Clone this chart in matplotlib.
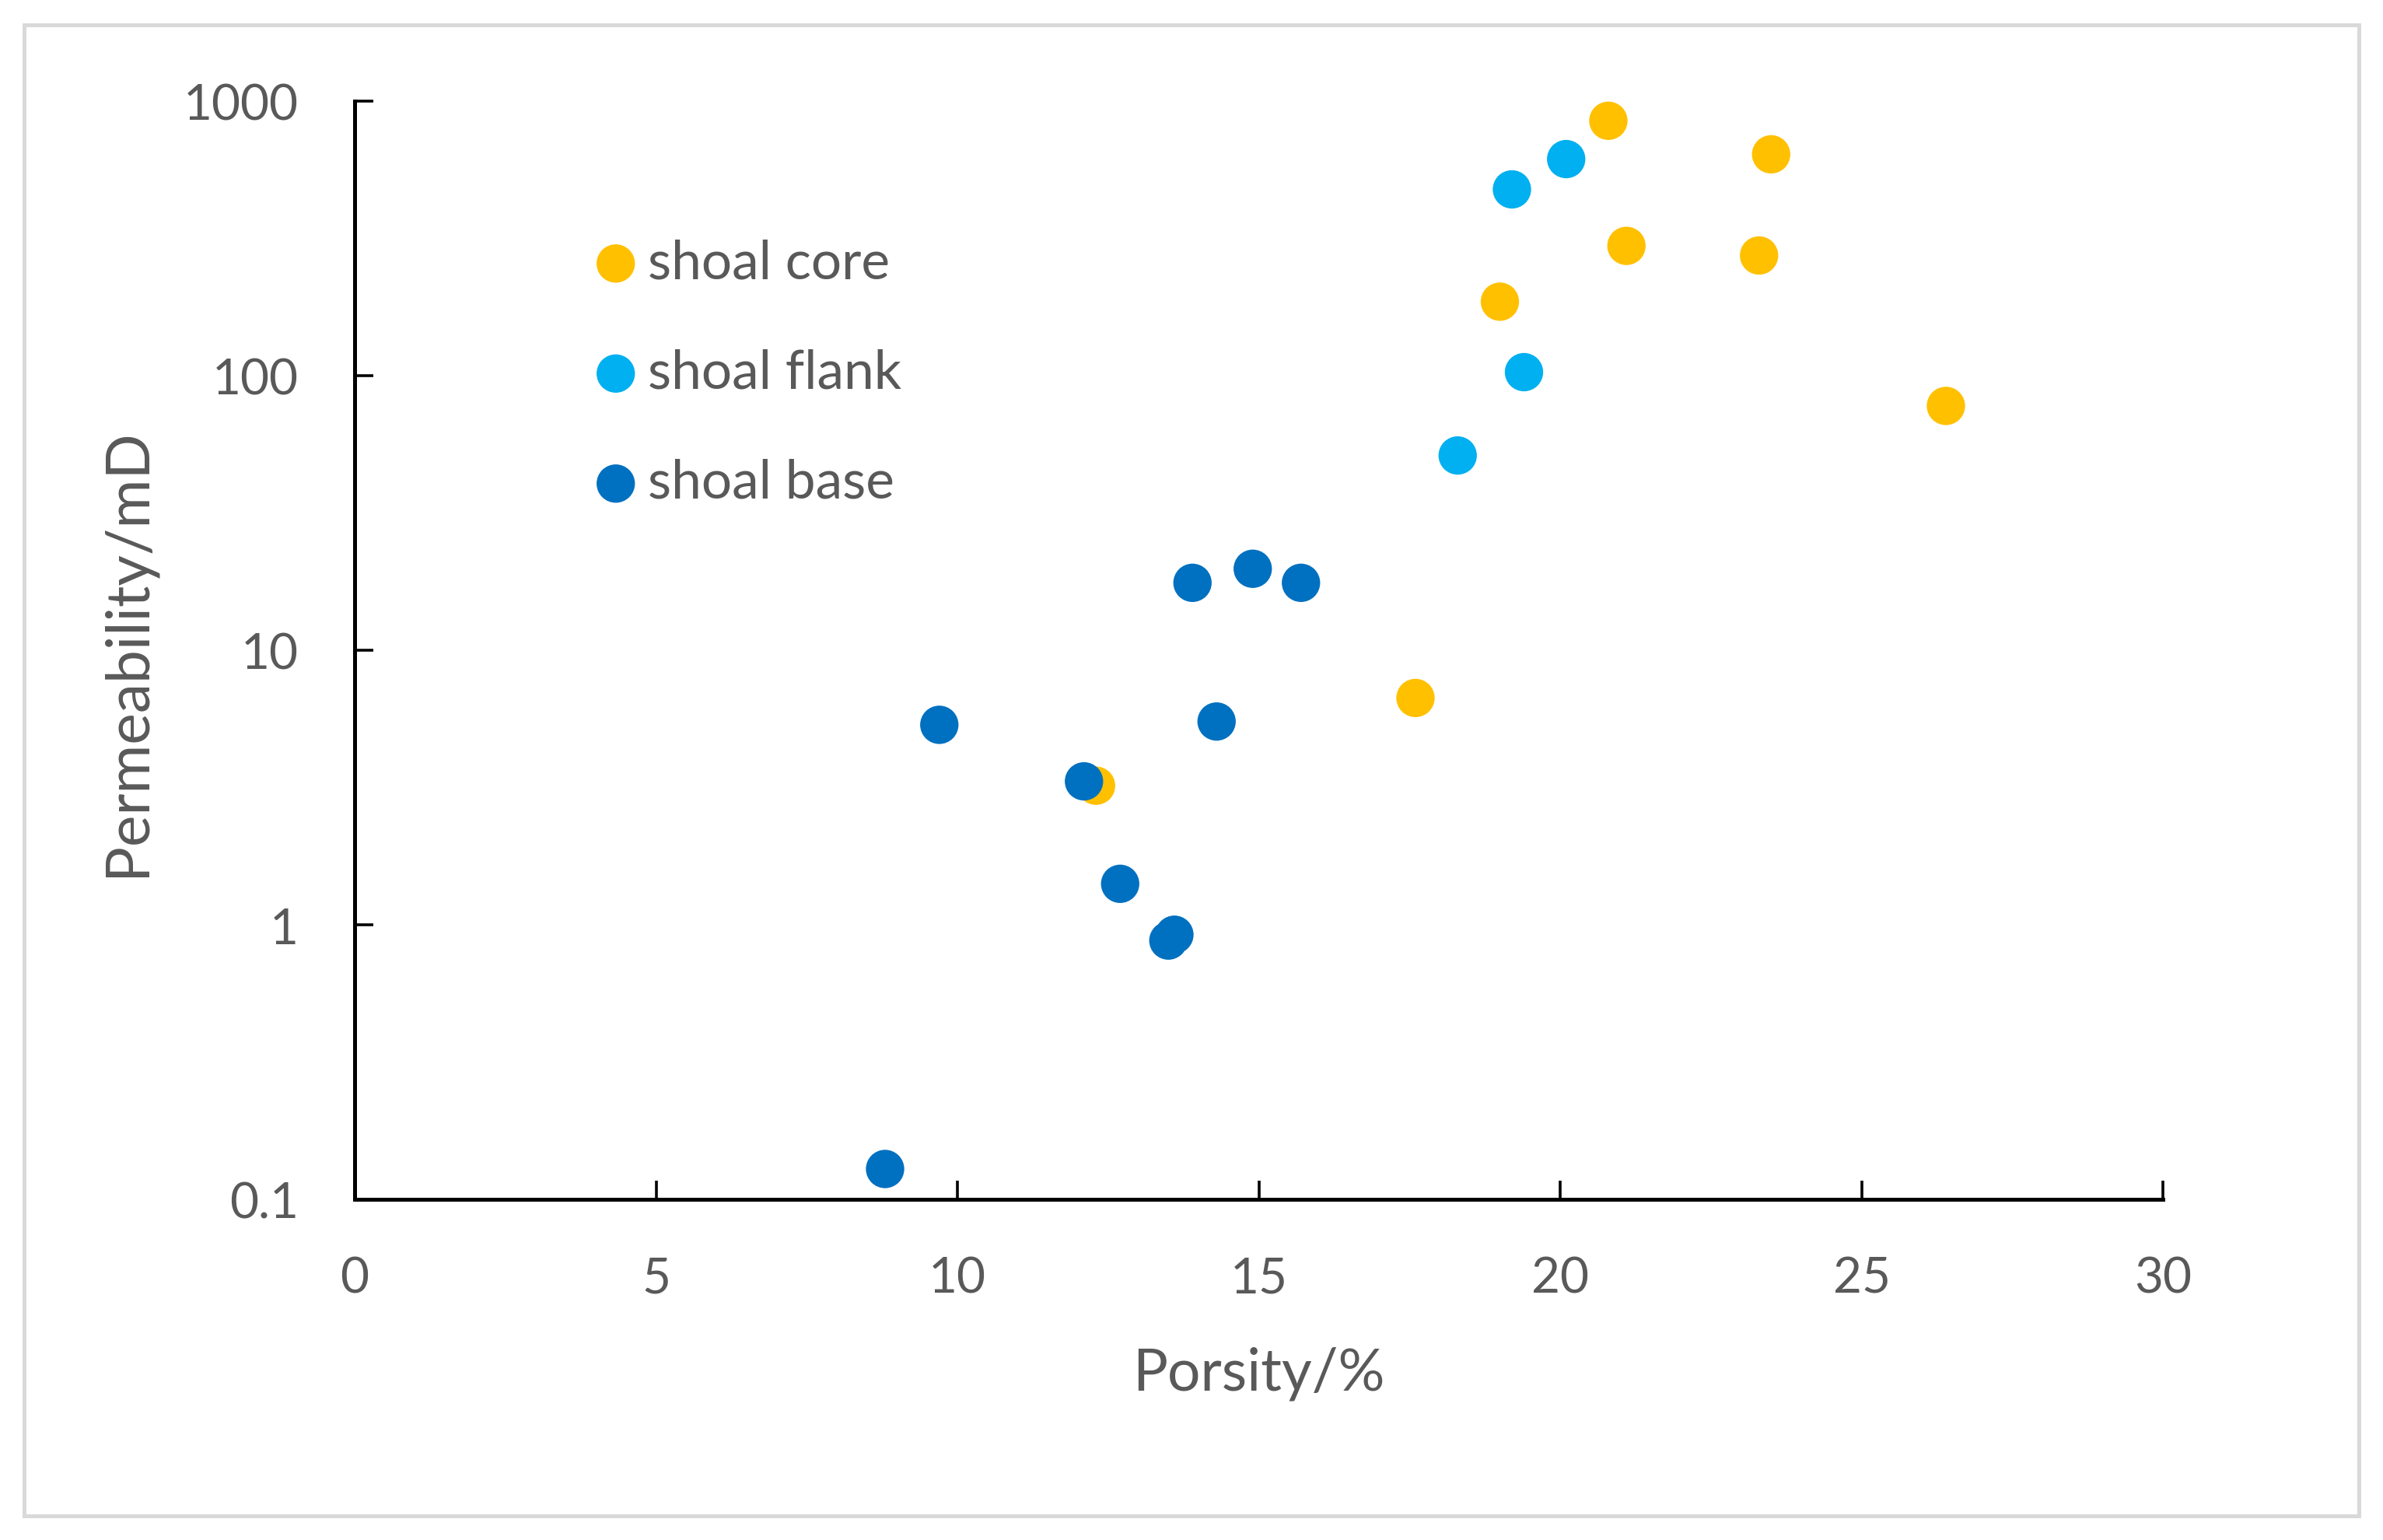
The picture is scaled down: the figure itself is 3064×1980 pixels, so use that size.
import matplotlib
matplotlib.use("Agg")
import matplotlib.pyplot as plt
from matplotlib.patches import Rectangle

plt.rcParams['font.family'] = ['Lato', 'DejaVu Sans']

# Data
core_porosity = [20.8, 23.5, 21.1, 23.3, 19.0, 26.4, 17.6, 12.3]
core_perm = [848, 640, 297, 274, 186, 77.6, 6.7, 3.21]

flank_porosity = [20.1, 19.2, 19.4, 18.3]
flank_perm = [615, 477, 103, 51.2]

base_porosity = [13.9, 14.9, 15.7, 9.7, 14.3, 12.1, 12.7, 13.6, 13.5, 8.8]
base_perm = [17.6, 19.8, 17.6, 5.35, 5.5, 3.33, 1.41, 0.92, 0.876, 0.129]

series_labels = ["shoal core", "shoal flank", "shoal base"]
series_colors = ["#FFC000", "#00B0F0", "#0070C0"]

x_ticks = [0, 5, 10, 15, 20, 25, 30]
y_ticks = [0.1, 1, 10, 100, 1000]
y_ticklabels = ["0.1", "1", "10", "100", "1000"]

W, H = 3064, 1981
DPI = 200
fig = plt.figure(figsize=(W / DPI, H / DPI), dpi=DPI)
fig.patch.set_facecolor("white")

# outer border
fig.patches.append(Rectangle((31 / W, 1 - 1950 / H), (3033 - 31) / W, (1950 - 33) / H,
                             transform=fig.transFigure, fill=False,
                             edgecolor="#D9D9D9", linewidth=1.8, zorder=0))

left, right, top, bottom = 456, 2781, 131, 1543
ax = fig.add_axes([left / W, 1 - bottom / H, (right - left) / W, (bottom - top) / H])

text_color = "#595959"
msize = 315

ax.scatter(core_porosity, core_perm, s=msize, color=series_colors[0], label=series_labels[0],
           edgecolors="none", zorder=3)
ax.scatter(flank_porosity, flank_perm, s=msize, color=series_colors[1], label=series_labels[1],
           edgecolors="none", zorder=3)
ax.scatter(base_porosity, base_perm, s=msize, color=series_colors[2], label=series_labels[2],
           edgecolors="none", zorder=4)

ax.set_yscale("log")
ax.set_xlim(0, 30)
ax.set_ylim(0.1, 1000)
ax.set_xticks(x_ticks)
ax.set_xticklabels([str(t) for t in x_ticks])
ax.set_yticks(y_ticks)
ax.set_yticklabels(y_ticklabels)
ax.yaxis.set_minor_locator(matplotlib.ticker.NullLocator())

for s in ["top", "right"]:
    ax.spines[s].set_visible(False)
for s in ["left", "bottom"]:
    ax.spines[s].set_linewidth(1.8)
    ax.spines[s].set_color("black")

ax.tick_params(axis="both", which="major", direction="in", length=8.5, width=1.3,
               colors="black", labelcolor=text_color, labelsize=23, pad=26)

fig.text(1618 / W, 1 - 1766 / H, "Porsity/%", ha="center", va="center",
         fontsize=27, color=text_color)
fig.text(164 / W, 1 - 839 / H, "Permeability/mD", ha="center", va="center",
         rotation=90, fontsize=27.6, color=text_color)

leg = ax.legend(loc="center left", bbox_to_anchor=(757 / W, 1 - 480 / H),
                bbox_transform=fig.transFigure, frameon=False, fontsize=25,
                handlelength=1.0, handletextpad=0.1, labelspacing=1.13,
                borderpad=0, borderaxespad=0, scatterpoints=1)
for t in leg.get_texts():
    t.set_color(text_color)

fig.savefig("out.png", dpi=DPI, facecolor="white")
